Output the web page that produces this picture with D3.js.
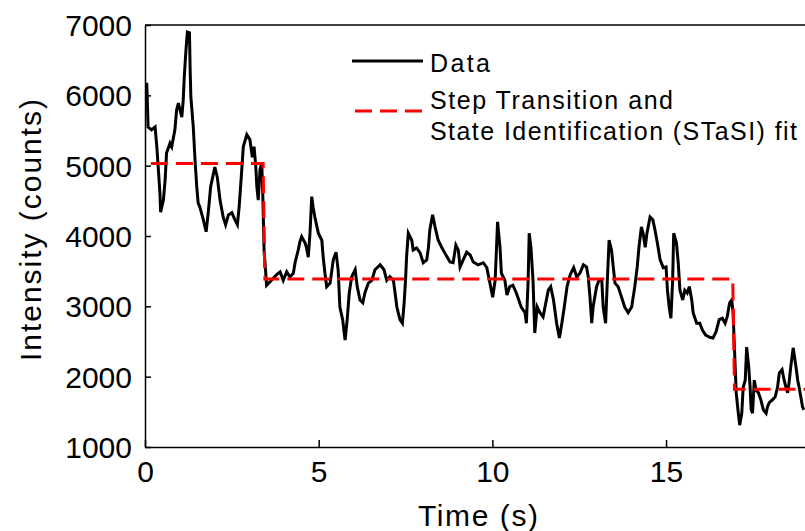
<!DOCTYPE html>
<html><head><meta charset="utf-8">
<script src="https://cdn.jsdelivr.net/npm/d3@7"></script>
<style>
html,body{margin:0;padding:0;background:#fff;}
svg{display:block;}
text{font-family:"Liberation Sans",Arial,Helvetica,sans-serif;fill:#000;}
</style></head>
<body><svg id="chart" width="805" height="531"></svg>
<script>
// ---- data ----
const times = [0.05,0.09,0.19,0.29,0.34,0.38,0.43,0.45,0.53,0.58,0.62,0.72,0.77,0.86,0.91,0.96,1.06,1.10,1.13,1.18,1.22,1.28,1.30,1.32,1.39,1.44,1.49,1.53,1.58,1.68,1.76,1.82,1.89,2.01,2.08,2.16,2.25,2.32,2.40,2.50,2.59,2.66,2.71,2.78,2.83,2.93,3.02,3.09,3.14,3.19,3.22,3.26,3.31,3.36,3.39,3.43,3.45,3.50,
3.60,3.79,3.89,3.98,4.08,4.17,4.27,4.32,4.41,4.46,4.51,4.61,4.65,4.70,4.75,4.80,4.84,4.89,4.99,5.09,5.13,5.18,5.23,5.33,5.42,5.50,5.56,5.61,5.69,5.76,5.82,5.88,5.95,6.05,6.11,6.19,6.27,6.33,6.43,6.53,6.62,6.77,6.88,6.96,7.05,7.15,7.20,7.25,7.34,7.41,7.46,7.50,7.53,7.58,7.68,7.72,7.82,7.92,8.01,8.11,8.16,8.20,8.28,8.35,8.44,8.54,8.63,8.78,8.87,8.95,9.02,9.07,9.16,9.26,9.36,9.45,9.59,9.74,9.84,9.93,10.01,10.08,10.12,10.15,10.22,10.26,10.36,10.42,10.50,10.59,10.69,10.76,10.83,10.94,10.98,11.03,11.06,11.11,11.17,11.22,11.29,11.37,11.46,11.61,11.68,11.76,11.85,11.93,12.00,12.07,12.15,12.24,12.34,12.43,12.52,12.62,12.71,12.76,12.81,12.86,12.90,13.00,13.07,13.15,13.19,13.26,13.31,13.36,13.43,13.48,13.53,13.62,13.72,13.81,13.91,14.01,14.10,14.17,14.22,14.29,14.34,14.40,14.45,14.54,14.62,14.68,14.75,14.83,14.92,15.00,15.04,15.09,15.14,15.19,15.22,15.30,15.35,15.40,15.48,15.54,15.61,15.67,15.74,15.78,15.88,15.97,16.05,16.14,16.26,16.35,16.44,16.53,16.62,16.70,16.76,16.83,16.89,16.93,16.96,16.99,17.02,17.08,17.12,17.18,17.22,17.28,17.32,17.38,17.42,17.45,17.49,17.54,17.59,17.66,17.73,17.80,17.88,17.92,17.97,18.06,18.14,18.21,18.26,18.34,18.40,18.45,18.50,18.54,18.59,18.66,18.74,18.79,18.83,18.88,18.93,18.97];
const intensity = [6180,5550,5510,5550,5270,4980,4610,4340,4510,4800,5180,5320,5270,5510,5790,5890,5690,5930,6260,6650,6900,6890,6360,5980,5550,5080,4700,4470,4410,4230,4060,4330,4700,4980,4840,4510,4270,4160,4300,4330,4230,4160,4410,4900,5270,5440,5370,5120,5270,4980,4700,4510,4940,5040,4610,3760,3660,3300,
3350,3450,3490,3370,3490,3420,3470,3620,3800,3920,3990,3900,3830,3700,4040,4560,4410,4270,4040,3940,3700,3470,3280,3330,3660,3770,3520,2990,2810,2520,2810,3190,3420,3520,3280,3090,3050,3190,3330,3370,3520,3590,3520,3370,3420,3370,3190,2990,2810,2760,3050,3370,3700,4040,3940,3800,3830,3760,3620,3660,3840,4090,4300,4130,3940,3840,3760,3630,3620,3870,3800,3560,3660,3770,3730,3630,3590,3620,3550,3330,3130,3370,3840,4200,3840,3470,3370,3160,3280,3300,3190,3090,2990,2910,2760,3370,4040,3840,3370,2620,2990,2910,2850,3230,3280,3090,2760,2550,2760,2990,3280,3450,3550,3420,3470,3590,3560,3420,3130,2760,2990,3280,3370,3370,2990,2760,3370,3940,3800,3560,3330,3280,3130,2990,2910,2990,3280,3560,3840,4130,4040,3840,4040,4270,4230,4090,3900,3660,3550,3560,3230,2990,2830,3370,4040,3900,3620,3230,3090,3230,3190,3280,3090,2910,2760,2760,2660,2590,2560,2550,2640,2810,2830,2760,2850,3050,3090,2910,2520,2140,1770,1480,1310,1480,1850,1950,2420,2140,1850,1530,1480,1950,1810,1770,1670,1530,1480,1570,1630,1670,1710,1850,2050,2100,1950,1850,1770,1910,2140,2410,2140,1950,1850,1710,1570,1530];
const fitTimes  = [0.17, 3.40, 3.45, 16.92, 16.97, 19];
const fitLevels = [5030, 5030, 3390, 3390, 1820, 1820];
const xTicks = [0, 5, 10, 15];
const yTicks = [1000, 2000, 3000, 4000, 5000, 6000, 7000];
const legendLabels = ["Data", "Step Transition and", "State Identification (STaSI) fit"];

// ---- layout ----
const L = 145, R = 805, T = 25, B = 447;
const svg = d3.select("#chart");
const x = d3.scaleLinear().domain([0, 19]).range([L, R]);
const y = d3.scaleLinear().domain([1000, 7000]).range([B, T]);

const n = Math.min(times.length, intensity.length);
const dataPts = d3.range(n).map(i => [times[i], intensity[i]]);
const fitPts = fitTimes.map((t, i) => [t, fitLevels[i]]);

svg.append("defs").append("clipPath").attr("id", "clip")
  .append("rect").attr("x", L).attr("y", T).attr("width", R - L).attr("height", B - T);

const line = d3.line().x(d => x(d[0])).y(d => y(d[1]));

const plot = svg.append("g").attr("clip-path", "url(#clip)");
plot.append("path").datum(dataPts).attr("d", line)
  .attr("fill", "none").attr("stroke", "#000").attr("stroke-width", 3).attr("stroke-linejoin", "miter");
plot.append("path").datum(fitPts).attr("d", line)
  .attr("fill", "none").attr("stroke", "#ff0000").attr("stroke-width", 3)
  .attr("stroke-dasharray", "17,8");

// axes
const xAxis = d3.axisBottom(x).tickValues(xTicks).tickSizeInner(-7).tickSizeOuter(0).tickPadding(13).tickFormat(d3.format("d"));
const gx = svg.append("g").attr("transform", `translate(0,${B})`).call(xAxis);
gx.select(".domain").attr("stroke-width", 1.5);
gx.selectAll(".tick line").attr("stroke-width", 1.5);
gx.selectAll(".tick text").attr("font-size", 30).attr("dy", 0).attr("y", 35);

const yAxis = d3.axisLeft(y).tickValues(yTicks).tickSizeInner(-6).tickSizeOuter(0).tickPadding(13).tickFormat(d3.format("d"));
const gy = svg.append("g").attr("transform", `translate(${L},0)`).call(yAxis);
gy.select(".domain").attr("stroke-width", 1.5);
gy.selectAll(".tick line").attr("stroke-width", 1.5);
gy.selectAll(".tick text").attr("font-size", 30).attr("x", -13).attr("dy", "0.35em");
svg.selectAll(".tick text").attr("font-family", "'Liberation Sans',Arial,sans-serif");

// top border
svg.append("line").attr("x1", L).attr("x2", R).attr("y1", T).attr("y2", T)
  .attr("stroke", "#000").attr("stroke-width", 1.5);

// axis titles
svg.append("text").attr("x", 478).attr("y", 526).attr("text-anchor", "middle")
  .attr("font-size", 30).attr("textLength", 120).attr("lengthAdjust", "spacing").text("Time (s)");
svg.append("text").attr("transform", "translate(41,230) rotate(-90)").attr("text-anchor", "middle")
  .attr("font-size", 30).attr("textLength", 262).attr("lengthAdjust", "spacing").text("Intensity (counts)");

// legend
const lg = svg.append("g");
lg.append("line").attr("x1", 352).attr("x2", 423).attr("y1", 61).attr("y2", 61)
  .attr("stroke", "#000").attr("stroke-width", 3);
lg.append("line").attr("x1", 355).attr("x2", 423).attr("y1", 111).attr("y2", 111)
  .attr("stroke", "#ff0000").attr("stroke-width", 3).attr("stroke-dasharray", "17,8");
const lgY = [72, 109, 140];
const lgW = [60, 243, 367];
legendLabels.forEach((s, i) => {
  lg.append("text").attr("x", 430).attr("y", lgY[i]).attr("font-size", 25)
    .attr("textLength", lgW[i]).attr("lengthAdjust", "spacing").text(s);
});
</script></body></html>
